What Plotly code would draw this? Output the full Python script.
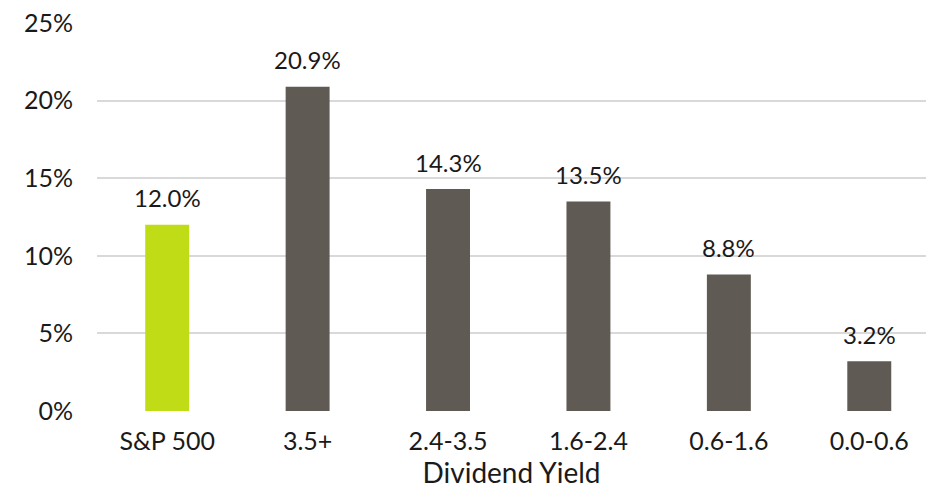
import plotly.graph_objects as go

categories = ["S&P 500", "3.5+", "2.4-3.5", "1.6-2.4", "0.6-1.6", "0.0-0.6"]
returns_pct = [12.0, 20.9, 14.3, 13.5, 8.8, 3.2]
bar_colors = ["#C0DC16", "#5F5A53", "#5F5A53", "#5F5A53", "#5F5A53", "#5F5A53"]
y_ticks = [0, 5, 10, 15, 20, 25]
y_tick_labels = ["0%", "5%", "10%", "15%", "20%", "25%"]

FONT = "Lato, 'Open Sans', sans-serif"
TEXT = "#1a1a1a"

fig = go.Figure()
fig.add_trace(go.Bar(
    x=list(range(len(categories))),
    y=returns_pct,
    marker=dict(color=bar_colors, line=dict(width=0)),
    width=0.313,
    hoverinfo="skip",
))

# value labels above each bar
for i, v in enumerate(returns_pct):
    fig.add_annotation(
        x=i, y=v, text=f"{v:.1f}%", showarrow=False,
        xref="x", yref="y", yanchor="middle", yshift=27,
        font=dict(family=FONT, size=24, color=TEXT),
    )

fig.update_layout(
    width=926, height=494,
    margin=dict(l=97, r=0, t=23, b=83),
    plot_bgcolor="white", paper_bgcolor="white",
    showlegend=False,
    font=dict(family=FONT, color=TEXT),
    xaxis=dict(
        range=[-0.5, 5.404],
        tickmode="array",
        tickvals=list(range(len(categories))),
        ticktext=categories,
        tickfont=dict(size=25, family=FONT, color=TEXT),
        showgrid=False, zeroline=False,
        showline=False, ticks="",
        ticklabelstandoff=13,
        title=dict(text="Dividend Yield", font=dict(size=28, family=FONT, color=TEXT), standoff=5),
    ),
    yaxis=dict(
        range=[0, 25],
        tickmode="array",
        tickvals=y_ticks,
        ticktext=y_tick_labels,
        tickfont=dict(size=25, family=FONT, color=TEXT),
        showgrid=True, gridcolor="#D9D9D9", gridwidth=2,
        zeroline=False, showline=False, ticks="",
        ticklabelstandoff=23,
    ),
)

fig.write_html("out.html")
